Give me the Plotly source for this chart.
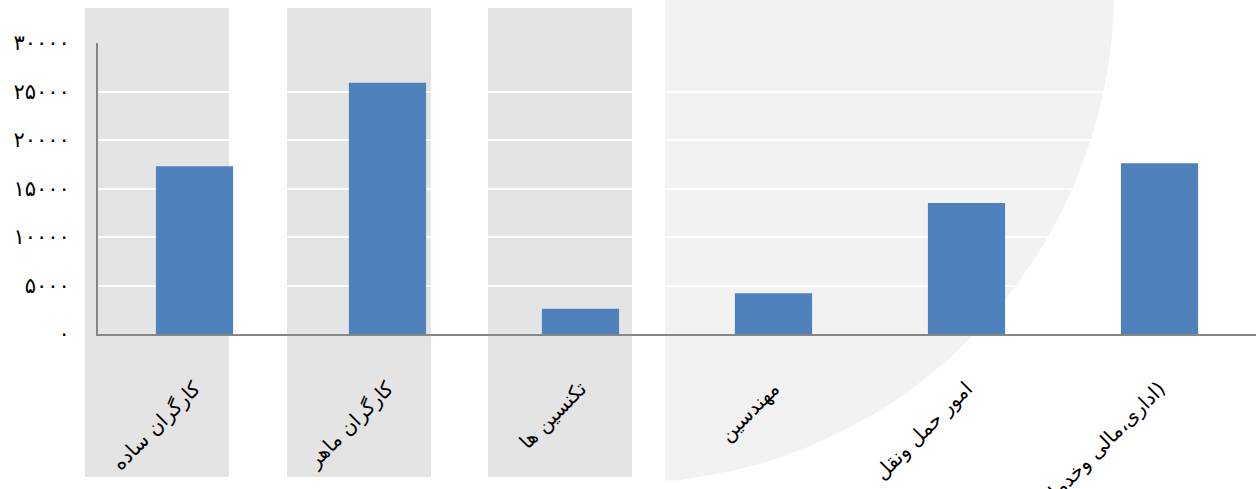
import numpy as np
import plotly.graph_objects as go

categories = ["کارگران ساده", "کارگران ماهر", "تکنسین ها", "مهندسین", "امور حمل ونقل", "(اداری،مالی وخدماتی)"]
values = [17300, 25900, 2600, 4200, 13500, 17600]
tick_vals = [0, 5000, 10000, 15000, 20000, 25000, 30000]
tick_text = ["۰", "۵۰۰۰", "۱۰۰۰۰", "۱۵۰۰۰", "۲۰۰۰۰", "۲۵۰۰۰", "۳۰۰۰۰"]

W, H = 1257, 489
L, R, T, B = 98, 1, 43, 155
pw, ph = W - L - R, H - T - B

def px(x):
    return (x - L) / pw

def py(y):
    return (H - B - y) / ph

shapes = []
# light large circular watermark region (clipped on its left side)
cx, cy, rad = 620, -10, 494
ys = np.linspace(-10, 489, 60)
pts = []
for yy in ys:
    dx = np.sqrt(max(rad**2 - (yy - cy)**2, 0))
    xx = cx + dx
    if xx > 665:
        pts.append((xx, yy))
path = f"M {px(665)},{py(0)} L {px(pts[0][0])},{py(0)} "
for xx, yy in pts:
    path += f"L {px(xx)},{py(yy)} "
path += f"L {px(665)},{py(pts[-1][1])} Z"
shapes.append(dict(type="path", path=path, xref="paper", yref="paper",
                   fillcolor="#f2f2f2", line=dict(width=0), layer="below"))
# gray vertical stripes
for x0, x1 in [(85, 229), (287, 431), (488, 632)]:
    shapes.append(dict(type="rect", xref="paper", yref="paper",
                       x0=px(x0), x1=px(x1), y0=py(477), y1=py(8),
                       fillcolor="#e4e4e4", line=dict(width=0), layer="below"))

fig = go.Figure(go.Bar(x=categories, y=values, marker=dict(color="#4f81bd", line=dict(width=0)),
                       width=0.4))

fig.update_layout(
    width=W, height=H,
    margin=dict(l=L, r=R, t=T, b=B, autoexpand=False),
    paper_bgcolor="white", plot_bgcolor="rgba(0,0,0,0)",
    shapes=shapes, showlegend=False,
    font=dict(family="DejaVu Sans", color="black"),
)
fig.update_yaxes(range=[0, 30000], tickvals=tick_vals, ticktext=tick_text,
                 showgrid=True, gridcolor="white", gridwidth=2,
                 showline=True, linecolor="#868686", linewidth=2,
                 zeroline=False, ticks="", ticklabelstandoff=22, automargin=False,
                 tickfont=dict(size=21, family="DejaVu Sans", color="black"))
fig.update_xaxes(showline=True, linecolor="#868686", linewidth=2, ticks="",
                 tickangle=-45, ticklabelstandoff=33, automargin=False,
                 tickfont=dict(size=20, family="DejaVu Sans", color="black"))

fig.write_html("out.html", config={"displayModeBar": False},
               post_script="document.body.style.margin='0';")
